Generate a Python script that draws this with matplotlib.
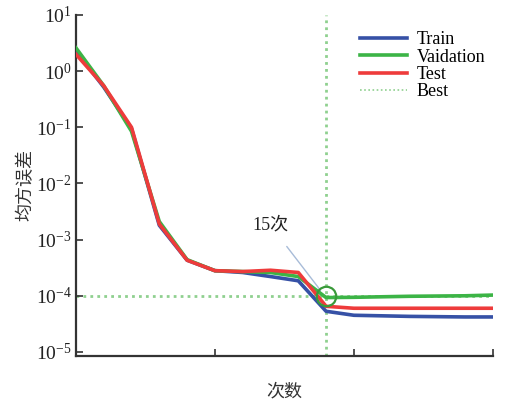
import numpy as np
import matplotlib
matplotlib.use('Agg')
import matplotlib.pyplot as plt

plt.rcParams['font.family'] = ['Liberation Serif', 'Noto Sans CJK SC']
plt.rcParams['mathtext.fontset'] = 'stix'

# performance per epoch
epochs = list(range(16))
train = [2.3, 0.52, 0.095, 1.8e-3, 4.3e-4, 2.8e-4, 2.6e-4, 2.2e-4, 1.85e-4, 5.3e-5,
         4.5e-5, 4.4e-5, 4.3e-5, 4.25e-5, 4.2e-5, 4.2e-5]
valid = [2.6, 0.55, 0.085, 2.1e-3, 4.4e-4, 2.8e-4, 2.7e-4, 2.6e-4, 2.2e-4, 9.3e-5,
         9.4e-5, 9.6e-5, 9.8e-5, 9.9e-5, 1.0e-4, 1.03e-4]
test = [2.0, 0.55, 0.1, 1.9e-3, 4.3e-4, 2.8e-4, 2.7e-4, 2.85e-4, 2.6e-4, 6.5e-5,
        6.0e-5, 6.0e-5, 6.0e-5, 6.0e-5, 6.0e-5, 6.0e-5]
best_epoch = 9
best_val = 1.0e-4

fig = plt.figure(figsize=(5.06, 4.04), dpi=100)
ax = fig.add_axes([0.150, 0.119, 0.824, 0.844])

ax.axvline(best_epoch, color='#8fd08f', ls=(0, (1, 1.5)), lw=2, zorder=1)
ax.axhline(best_val, color='#8fd08f', ls=(0, (1, 1.5)), lw=2, zorder=1)
ax.plot(epochs, train, color='#3651a6', lw=2.6, label='Train', zorder=3)
ax.plot(epochs, valid, color='#3cb446', lw=2.6, label='Vaidation', zorder=3)
ax.plot(epochs, test, color='#ee3b3b', lw=2.6, label='Test', zorder=4)
ax.plot([], [], color='#8fd08f', ls=(0, (1, 1.5)), lw=1.2, label='Best')
ax.plot(best_epoch, best_val, 'o', ms=14, mfc='none', mec='#3a9a3a', mew=1.6, zorder=5)

ax.annotate('15次', xy=(best_epoch - 0.2, 1.25e-4), xytext=(7.0, 1.8e-3),
            fontsize=13, ha='center', va='center', color='#222222',
            arrowprops=dict(arrowstyle='-', color='#a8bcd8', lw=1, shrinkB=0, shrinkA=9))

ax.set_yscale('log')
ax.set_ylim(8.5e-6, 10)
ax.set_xlim(0, 15)
ax.set_xticks([0, 5, 10, 15])
ax.set_xticklabels([])
ax.set_yticks([1e-5, 1e-4, 1e-3, 1e-2, 1e-1, 1, 10])
ax.minorticks_off()
ax.tick_params(direction='in', length=5, width=1.2, labelsize=14, colors='#333333')
ax.tick_params(axis='y', labelcolor='#222222', pad=3)
for s in ['top', 'right']:
    ax.spines[s].set_visible(False)
for s in ['left', 'bottom']:
    ax.spines[s].set_linewidth(1.6)
    ax.spines[s].set_color('#333333')

ax.set_ylabel('均方误差', fontsize=13, labelpad=1, color='#333333')
ax.set_xlabel('次数', fontsize=13, labelpad=16, color='#333333')

ax.legend(loc='upper right', bbox_to_anchor=(1.02, 1.0), frameon=False, fontsize=13,
          handlelength=2.6, labelspacing=0.02, handletextpad=0.5)

fig.savefig('out.png', dpi=100)
